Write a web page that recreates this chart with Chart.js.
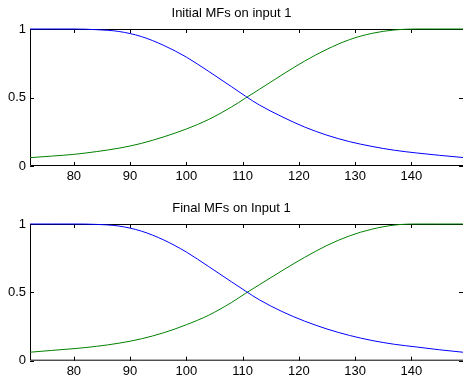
<!DOCTYPE html>
<html>
<head>
<meta charset="utf-8">
<script src="https://cdn.jsdelivr.net/npm/chart.js@4.4.1/dist/chart.umd.min.js"></script>
<style>
  html, body { margin: 0; padding: 0; background: #fff; }
  #wrap { position: relative; width: 463px; height: 382px; overflow: hidden; }
  canvas { position: absolute; left: 0; }
  #mfInit { top: 0; }
  #mfFinal { top: 195px; }
</style>
</head>
<body>
<div id="wrap">
  <canvas id="mfInit" width="463" height="195"></canvas>
  <canvas id="mfFinal" width="463" height="187"></canvas>
</div>
<script>
// input 1 range and sample points
const xRange = [72.2, 149.2];
const xInput = [72.2, 76, 80, 84, 88, 92, 96, 100, 104, 108, 110.5, 113, 117, 121, 125, 129, 133, 137, 141, 145, 149.2];

// initial membership functions
const initMf1 = [1, 1, 1, 0.995, 0.982, 0.945, 0.88, 0.795, 0.69, 0.58, 0.51, 0.445, 0.36, 0.285, 0.225, 0.178, 0.143, 0.115, 0.095, 0.078, 0.062];
const initMf2 = [0.061, 0.072, 0.085, 0.105, 0.13, 0.165, 0.213, 0.27, 0.34, 0.43, 0.495, 0.56, 0.665, 0.765, 0.852, 0.922, 0.968, 0.993, 1, 1, 1];

// final membership functions
const finalMf1 = [1, 1, 1, 0.997, 0.985, 0.948, 0.883, 0.795, 0.688, 0.578, 0.51, 0.445, 0.36, 0.29, 0.232, 0.185, 0.148, 0.12, 0.10, 0.08, 0.062];
const finalMf2 = [0.062, 0.075, 0.088, 0.105, 0.128, 0.16, 0.205, 0.263, 0.333, 0.425, 0.492, 0.556, 0.658, 0.755, 0.843, 0.913, 0.962, 0.992, 1, 1, 1];

const xTicks = [80, 90, 100, 110, 120, 130, 140];
const yTicks = [0, 0.5, 1];

const FONT = 'Arial, "Liberation Sans", Helvetica, sans-serif';

// matlab-style box with inward ticks
const mfAxesBox = {
    id: 'mfAxesBox',
    beforeDatasetsDraw(chart) {
        const { ctx, chartArea: a, scales: { x, y } } = chart;
        const len = 4;
        ctx.save();
        ctx.strokeStyle = '#000';
        ctx.lineWidth = 1;
        ctx.beginPath();
        ctx.rect(a.left + 0.5, a.top + 0.5, a.right - a.left, a.bottom - a.top - 1);
        xTicks.forEach(v => {
            const px = Math.round(x.getPixelForValue(v)) + 0.5;
            ctx.moveTo(px, a.bottom); ctx.lineTo(px, a.bottom - len);
            ctx.moveTo(px, a.top); ctx.lineTo(px, a.top + len);
        });
        yTicks.forEach(v => {
            const py = Math.round(y.getPixelForValue(v)) + 0.5;
            ctx.moveTo(a.left, py); ctx.lineTo(a.left + len, py);
            ctx.moveTo(a.right, py); ctx.lineTo(a.right - len, py);
        });
        ctx.stroke();
        ctx.restore();
    }
};

function toPoints(ys) {
    return xInput.map((x, i) => ({ x: x, y: ys[i] }));
}

function buildMfChart(id, title, mf1, mf2, xAxisHeight) {
    const canvas = document.getElementById(id);
    return new Chart(canvas.getContext('2d'), {
        type: 'line',
        data: {
            datasets: [
                { data: toPoints(mf1), borderColor: '#0000ff', borderWidth: 1, pointRadius: 0, cubicInterpolationMode: 'monotone', clip: false },
                { data: toPoints(mf2), borderColor: '#008000', borderWidth: 1, pointRadius: 0, cubicInterpolationMode: 'monotone', clip: false }
            ]
        },
        options: {
            responsive: false,
            animation: false,
            devicePixelRatio: 1,
            layout: { padding: 0 },
            plugins: {
                legend: { display: false },
                tooltip: { enabled: false },
                title: {
                    display: true,
                    text: title,
                    color: '#000',
                    font: { family: FONT, size: 13, weight: 'normal', lineHeight: 1.2 },
                    padding: { top: 6, bottom: 7.4 }
                }
            },
            scales: {
                x: {
                    type: 'linear',
                    min: xRange[0],
                    max: xRange[1],
                    afterBuildTicks: s => { s.ticks = xTicks.map(v => ({ value: v })); },
                    afterFit: s => { s.height = xAxisHeight; },
                    grid: { display: false, drawTicks: false },
                    border: { display: false },
                    ticks: { color: '#000', padding: 3, maxRotation: 0, font: { family: FONT, size: 13 } }
                },
                y: {
                    min: 0,
                    max: 1,
                    afterBuildTicks: s => { s.ticks = yTicks.map(v => ({ value: v })); },
                    afterFit: s => { s.width = 30; },
                    grid: { display: false, drawTicks: false },
                    border: { display: false },
                    ticks: { color: '#000', padding: 4, font: { family: FONT, size: 13 }, callback: v => String(v) }
                }
            }
        },
        plugins: [mfAxesBox]
    });
}

buildMfChart('mfInit', 'Initial MFs on input 1', initMf1, initMf2, 29);
buildMfChart('mfFinal', 'Final MFs on Input 1', finalMf1, finalMf2, 21.3);
</script>
</body>
</html>
